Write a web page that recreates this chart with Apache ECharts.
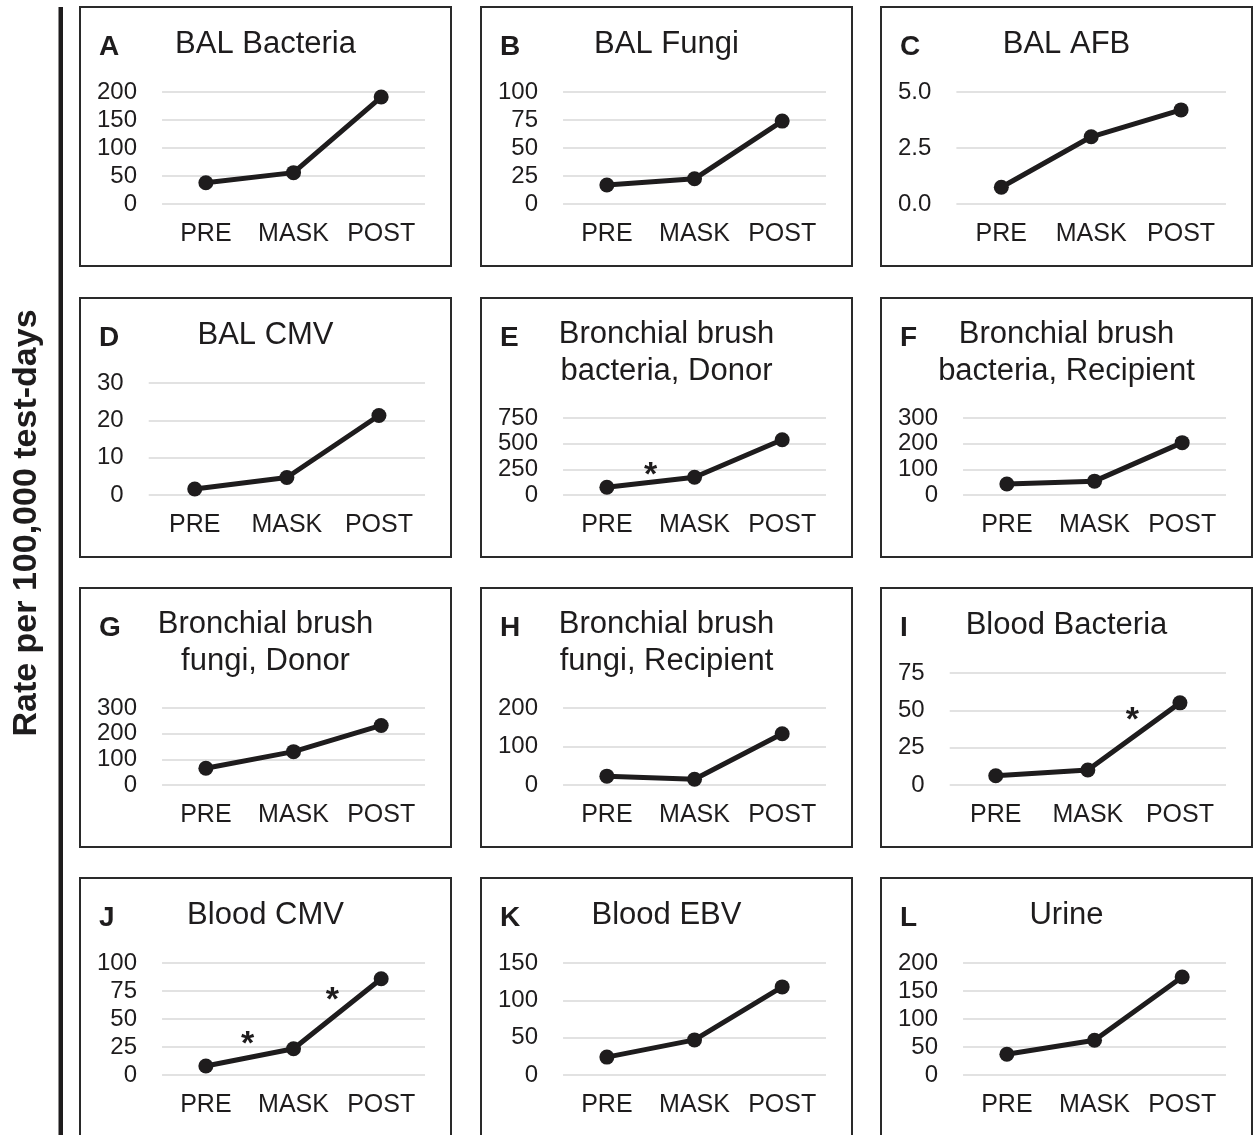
<!DOCTYPE html>
<html>
<head>
<meta charset="utf-8">
<script src="https://cdn.jsdelivr.net/npm/echarts@6/dist/echarts.min.js"></script>
<style>
html,body{margin:0;padding:0;background:#fff;}
#c{width:1258px;height:1135px;}
</style>
</head>
<body>
<div id="c"></div>
<script>
// ---------------- DATA ----------------
const categories = ['PRE', 'MASK', 'POST'];
const panelLetters = ['A','B','C','D','E','F','G','H','I','J','K','L'];
const panelTitles = [
  ['BAL Bacteria'],
  ['BAL Fungi'],
  ['BAL AFB'],
  ['BAL CMV'],
  ['Bronchial brush', 'bacteria, Donor'],
  ['Bronchial brush', 'bacteria, Recipient'],
  ['Bronchial brush', 'fungi, Donor'],
  ['Bronchial brush', 'fungi, Recipient'],
  ['Blood Bacteria'],
  ['Blood CMV'],
  ['Blood EBV'],
  ['Urine']
];
const balBacteria = [38, 56, 191];
const balFungi = [17, 22.5, 74];
const balAFB = [0.75, 3.0, 4.2];
const balCMV = [1.6, 4.7, 21.3];
const brushBacteriaDonor = [75, 173, 538];
const brushBacteriaRecipient = [43, 54, 204];
const brushFungiDonor = [65, 130, 232];
const brushFungiRecipient = [23, 15, 133];
const bloodBacteria = [6.2, 10, 55];
const bloodCMV = [8, 23.5, 86];
const bloodEBV = [24, 47, 118];
const urine = [37, 62, 175];
const seriesValues = [balBacteria, balFungi, balAFB, balCMV, brushBacteriaDonor, brushBacteriaRecipient,
  brushFungiDonor, brushFungiRecipient, bloodBacteria, bloodCMV, bloodEBV, urine];
// y-axis tick labels: 0..max by step
const yMax  = [200, 100, 5,   30, 750, 300, 300, 200, 75, 100, 150, 200];
const yStep = [50,  25,  2.5, 10, 250, 100, 100, 100, 25, 25,  50,  50];
const yDecimals = [0, 0, 1, 0, 0, 0, 0, 0, 0, 0, 0, 0];
// significance stars: [panel index, segment start category index]
const stars = [[4, 0], [8, 1], [9, 0], [9, 1]];
const axisTitle = 'Rate per 100,000 test-days';

// ---------------- LAYOUT ----------------
const FONT = '"Liberation Sans", Arial, Helvetica, sans-serif';
const INK = '#1e1c1d';
const COLS = [80, 481, 881];
const ROWS = [7, 298, 588, 878];
const BW = 371, BH = 259;
const starNudge = [[0, -15], [-1.5, -24], [-2, -21], [-5, -21]];

const mctx = document.createElement('canvas').getContext('2d');
mctx.font = '24px ' + FONT;
function labelWidth(i) {
  let w = 0;
  for (let v = 0; v <= yMax[i] + 1e-9; v += yStep[i]) {
    w = Math.max(w, mctx.measureText(v.toFixed(yDecimals[i])).width);
  }
  return w;
}

const chart = echarts.init(document.getElementById('c'), null, {renderer: 'canvas'});
const grids = [], xAxes = [], yAxes = [], series = [], graphics = [];

graphics.push({type: 'rect', shape: {x: 58.5, y: 7, width: 4.5, height: 1128}, style: {fill: INK}});
graphics.push({type: 'text', x: 27, y: 523, rotation: Math.PI / 2,
  style: {text: axisTitle, font: 'bold 34px ' + FONT, fill: INK,
    textAlign: 'center', textVerticalAlign: 'middle', align: 'center', verticalAlign: 'middle'}});

seriesValues.forEach((vals, i) => {
  const r = Math.floor(i / 3), c = i % 3;
  const bx = COLS[c], by = ROWS[r];
  const twoLine = panelTitles[i].length > 1;
  const gl = bx + 17 + labelWidth(i) + 25;
  const gr = bx + BW - 26;
  const gt = by + (twoLine ? 120 : 85);
  const gb = by + 197;
  grids.push({left: gl, top: gt, width: gr - gl, height: gb - gt, containLabel: false});
  xAxes.push({type: 'category', gridIndex: i, data: categories, boundaryGap: true,
    axisLine: {show: false}, axisTick: {show: false}, splitLine: {show: false},
    axisLabel: {color: INK, fontSize: 25, fontFamily: FONT, margin: 18, interval: 0}});
  yAxes.push({type: 'value', gridIndex: i, min: 0, max: yMax[i], interval: yStep[i],
    axisLine: {show: false}, axisTick: {show: false},
    splitLine: {show: true, lineStyle: {color: '#d9d9d9', width: 1.5}},
    axisLabel: {color: INK, fontSize: 24, fontFamily: FONT, margin: 25,
      formatter: (v) => Number(v).toFixed(yDecimals[i])}});
  series.push({type: 'line', xAxisIndex: i, yAxisIndex: i, data: vals,
    symbol: 'circle', symbolSize: 15, showSymbol: true,
    lineStyle: {color: INK, width: 5}, itemStyle: {color: INK}, animation: false, silent: true});

  graphics.push({type: 'rect', shape: {x: bx, y: by, width: BW, height: BH},
    style: {fill: 'none', stroke: '#2a2a2a', lineWidth: 2}});
  graphics.push({type: 'text', x: bx + 19, y: by + 40,
    style: {text: panelLetters[i], font: 'bold 28px ' + FONT, fill: INK,
      textAlign: 'left', textVerticalAlign: 'middle', align: 'left', verticalAlign: 'middle'}});
  const lineMid = twoLine ? [36.2, 73.2] : [37.2];
  panelTitles[i].forEach((t, k) => {
    graphics.push({type: 'text', x: bx + BW / 2, y: by + lineMid[k],
      style: {text: t, font: '31px ' + FONT, fill: INK,
        textAlign: 'center', textVerticalAlign: 'middle', align: 'center', verticalAlign: 'middle'}});
  });
});

chart.setOption({animation: false, grid: grids, xAxis: xAxes, yAxis: yAxes, series: series});

stars.forEach(([p, s], k) => {
  const a = chart.convertToPixel({seriesIndex: p}, [s, seriesValues[p][s]]);
  const b = chart.convertToPixel({seriesIndex: p}, [s + 1, seriesValues[p][s + 1]]);
  const cx = (a[0] + b[0]) / 2 + starNudge[k][0];
  const cy = (a[1] + b[1]) / 2 + starNudge[k][1];
  graphics.push({type: 'text', x: cx, y: cy + 8,
    style: {text: '*', font: 'bold 34px ' + FONT, fill: INK,
      textAlign: 'center', textVerticalAlign: 'middle', align: 'center', verticalAlign: 'middle'}});
});

chart.setOption({graphic: graphics});
</script>
</body>
</html>
